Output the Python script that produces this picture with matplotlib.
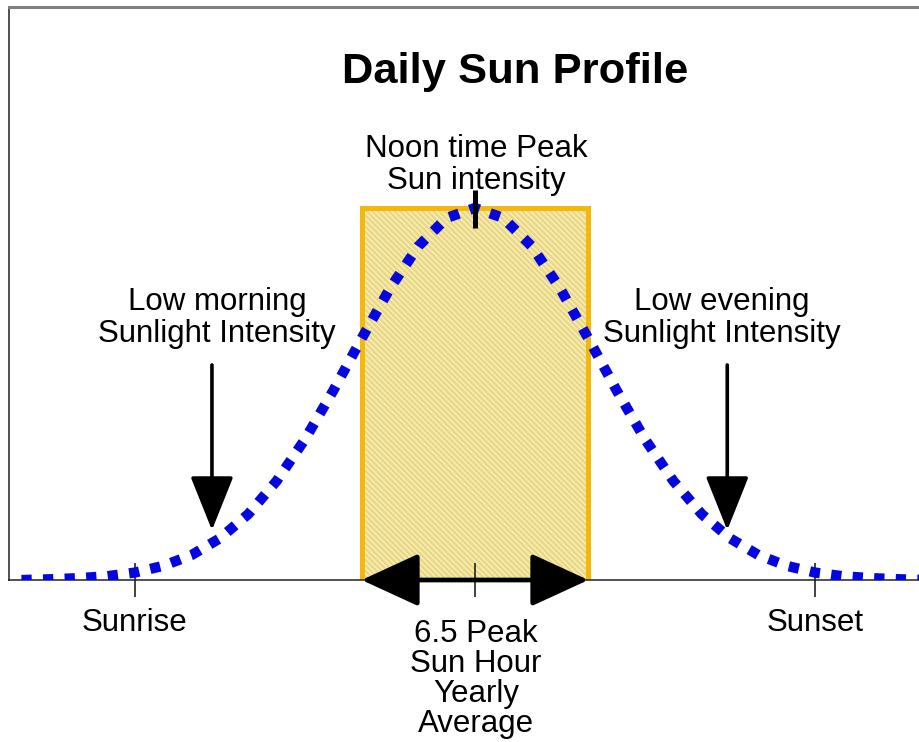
import matplotlib
matplotlib.use("Agg")
import matplotlib.pyplot as plt
from matplotlib.patches import Rectangle

plt.rcParams['font.family'] = ['Liberation Sans', 'DejaVu Sans']
plt.rcParams['hatch.linewidth'] = 1.8

# hour of day vs relative sun intensity
hours = [4.0, 4.5, 5.0, 5.5, 6.0, 6.5, 7.0, 7.5, 8.0, 8.5, 9.0, 9.5, 10.0, 10.5,
         11.0, 11.5, 12.0, 12.5, 13.0, 13.5, 14.0, 14.5, 15.0, 15.5, 16.0, 16.5,
         17.0, 17.5, 18.0, 18.5, 19.0, 19.5, 20.0]
intensity = [0.0, 0.002, 0.005, 0.010, 0.020, 0.038, 0.067, 0.112, 0.177, 0.266,
             0.378, 0.509, 0.649, 0.784, 0.897, 0.973, 1.0, 0.973, 0.897, 0.784,
             0.649, 0.509, 0.378, 0.266, 0.177, 0.112, 0.067, 0.038, 0.020, 0.010,
             0.005, 0.002, 0.0]

peak_start = 10.0
peak_end = 14.0
peak_level = 1.0

tick_hours = [6, 12, 18]
tick_labels = ["Sunrise", "", "Sunset"]

fig = plt.figure(figsize=(9.2, 7.42), dpi=100)
ax = fig.add_axes([9 / 920, 162 / 742, 911 / 920, 573 / 742])
ax.set_xlim(3.78, 19.85)
ax.set_ylim(0, 1.54)

ax.spines['right'].set_visible(False)
ax.spines['top'].set_color('#808080')
ax.spines['top'].set_linewidth(2.2)
ax.spines['left'].set_color('#505050')
ax.spines['left'].set_linewidth(1.4)
ax.spines['bottom'].set_color('#222222')
ax.spines['bottom'].set_linewidth(1.1)

# peak sun hour box
ax.add_patch(Rectangle((peak_start, 0), peak_end - peak_start, peak_level,
                       facecolor='#fbf2b2', edgecolor='#e8d68a', hatch='\\' * 6,
                       linewidth=0, zorder=1))
ax.add_patch(Rectangle((peak_start, 0), peak_end - peak_start, peak_level,
                       facecolor='none', edgecolor='#f2b90c', linewidth=3.6,
                       zorder=2))

# bell curve
ax.plot(hours, intensity, color='#0505e0', linewidth=7.4, dashes=[1.0, 1.1],
        dash_capstyle='butt', zorder=4)

# noon marker
ax.plot([12.0, 12.0], [0.946, 1.048], color='black', linewidth=3.6,
        solid_capstyle='butt', zorder=5)

# double arrow along the baseline
ax.annotate('', xy=(peak_start, 0), xytext=(peak_end, 0),
            arrowprops=dict(arrowstyle='<|-|>,head_length=1.0,head_width=0.46',
                            mutation_scale=36, color='black', lw=3.4,
                            shrinkA=0, shrinkB=0), zorder=6)

# morning / evening arrows
for h in [7.36, 16.45]:
    ax.annotate('', xy=(h, 0.134), xytext=(h, 0.578),
                arrowprops=dict(arrowstyle='-|>,head_length=1.0,head_width=0.4',
                                mutation_scale=34, color='black', lw=2.6,
                                shrinkA=0, shrinkB=0), zorder=6)

ax.set_xticks(tick_hours)
ax.set_xticklabels(tick_labels, fontsize=22.5)
ax.tick_params(axis='x', direction='inout', length=24, width=1.2,
               color='#222222', pad=8)
ax.set_yticks([])

ax.text(7.45, 0.705, "Low morning\nSunlight Intensity", ha='center', va='center',
        fontsize=22.5, linespacing=1.1)
ax.text(16.36, 0.705, "Low evening\nSunlight Intensity", ha='center', va='center',
        fontsize=22.5, linespacing=1.1)
ax.text(12.02, 1.115, "Noon time Peak\nSun intensity", ha='center', va='center',
        fontsize=22.5, linespacing=1.1)
ax.text(12.02, -0.105, "6.5 Peak\nSun Hour\nYearly\nAverage", ha='center', va='top',
        fontsize=22.5, linespacing=1.0)

fig.text(515 / 920, 1 - 72 / 742, "Daily Sun Profile", ha='center', va='center',
         fontsize=31.3, fontweight='bold')

fig.savefig("out.png", dpi=100)
